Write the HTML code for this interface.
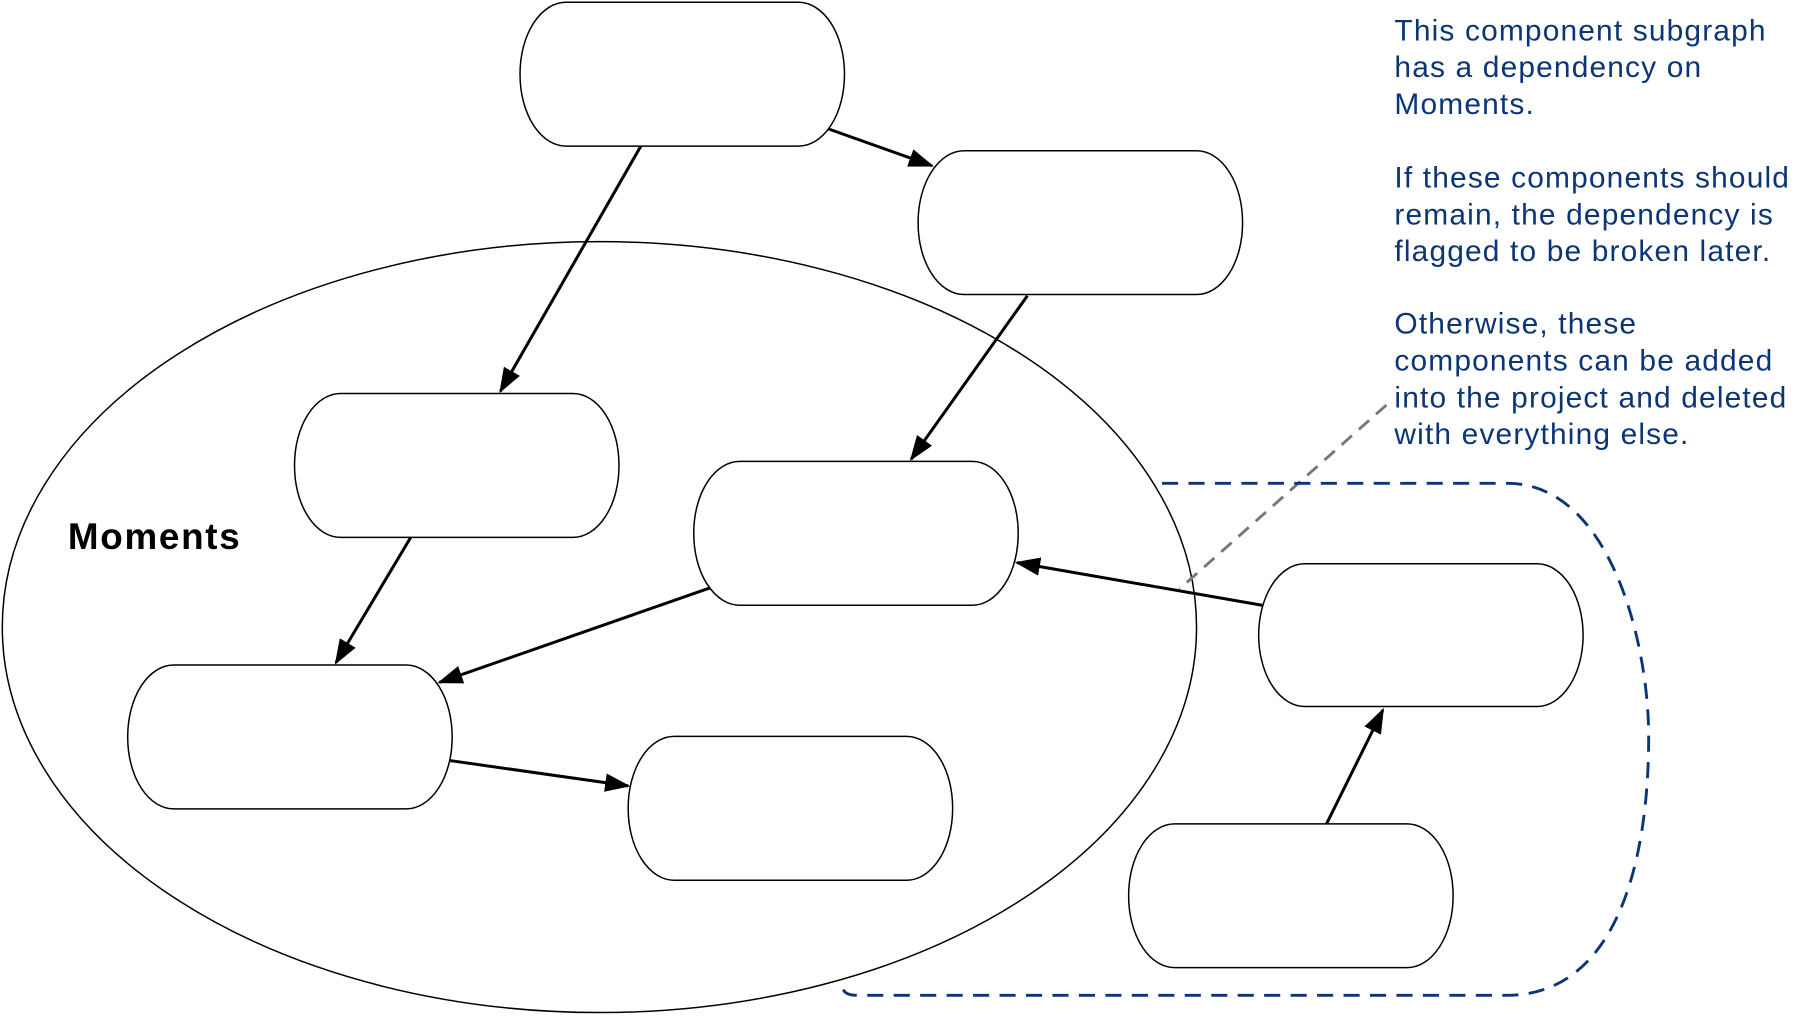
<!DOCTYPE html>
<html><head><meta charset="utf-8"><style>
html,body{margin:0;padding:0;background:#fff;}
svg{display:block;}
.n{fill:#fff;stroke:#000;stroke-width:1.3;}
.t{font-family:"Liberation Sans",sans-serif;font-size:26px;letter-spacing:1px;fill:#0b3576;}
</style></head><body>
<svg width="1804" height="1016" viewBox="0 0 1568 883" preserveAspectRatio="none">
<defs>
<marker id="ah2" markerWidth="22" markerHeight="16" refX="20" refY="8" orient="auto" markerUnits="userSpaceOnUse"><path d="M0,0 L22,8 L0,16 Z" fill="#000"/></marker></defs>
<ellipse cx="521" cy="545" rx="519" ry="335" fill="none" stroke="#000" stroke-width="1.3"/>
<rect class="n" x="452" y="2" width="282" height="125" rx="40" ry="62"/>
<rect class="n" x="798" y="131" width="282" height="125" rx="40" ry="62"/>
<rect class="n" x="256" y="342" width="282" height="125" rx="40" ry="62"/>
<rect class="n" x="603" y="401" width="282" height="125" rx="40" ry="62"/>
<rect class="n" x="111" y="578" width="282" height="125" rx="40" ry="62"/>
<rect class="n" x="546" y="640" width="282" height="125" rx="40" ry="62"/>
<rect class="n" x="1094" y="490" width="282" height="124" rx="40" ry="62"/>
<rect class="n" x="981" y="716" width="282" height="125" rx="40" ry="62"/>
<g stroke="#000" stroke-width="2.6" fill="none" style="marker-end:url(#ah2)">
<line x1="720" y1="112" x2="810" y2="144"/>
<line x1="557" y1="127" x2="435" y2="340"/>
<line x1="893" y1="257" x2="792" y2="399"/>
<line x1="357" y1="467" x2="292" y2="576"/>
<line x1="617" y1="511" x2="382" y2="593"/>
<line x1="391" y1="661" x2="546" y2="683"/>
<line x1="1097" y1="526" x2="884" y2="489"/>
<line x1="1153" y1="716" x2="1202" y2="617"/>
</g>
<line x1="1205" y1="352" x2="1025" y2="512" stroke="#777" stroke-width="2.5" stroke-dasharray="12,8"/>
<path d="M1010,420 L1310,420 C1400,420 1433,560 1433,640 C1433,760 1400,865 1310,865 L745,865 Q735,865 733,860" fill="none" stroke="#0b3576" stroke-width="2.5" stroke-dasharray="14,9"/>
<text x="59" y="477" font-family="Liberation Sans, sans-serif" font-weight="bold" font-size="32" letter-spacing="1.5">Moments</text>
<text class="t" x="1212" y="35">This component subgraph</text>
<text class="t" x="1212" y="67">has a dependency on</text>
<text class="t" x="1212" y="99">Moments.</text>
<text class="t" x="1212" y="163">If these components should</text>
<text class="t" x="1212" y="195">remain, the dependency is</text>
<text class="t" x="1212" y="227">flagged to be broken later.</text>
<text class="t" x="1212" y="290">Otherwise, these</text>
<text class="t" x="1212" y="322">components can be added</text>
<text class="t" x="1212" y="354">into the project and deleted</text>
<text class="t" x="1212" y="386">with everything else.</text>
</svg>
</body></html>
